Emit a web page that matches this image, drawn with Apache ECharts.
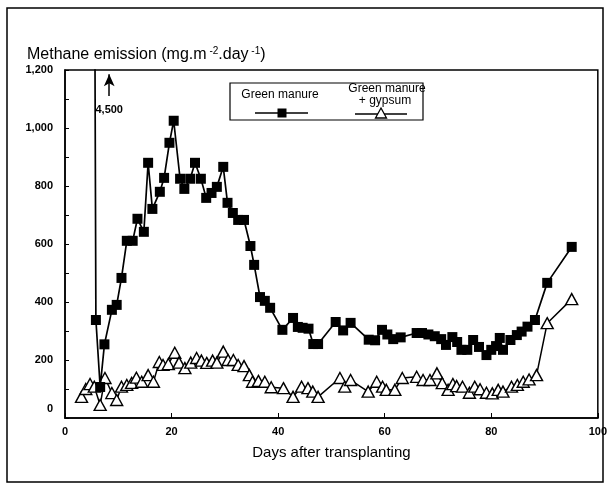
<!DOCTYPE html>
<html>
<head>
    <meta charset="utf-8">
    <title>Methane emission</title>
    <script src="https://cdn.jsdelivr.net/npm/echarts@6/dist/echarts.min.js"></script>
</head>
<body style="margin:0;background:#fff">
<div id="main" style="width:610px;height:490px;"></div>
<script type="text/javascript">
    // days after transplanting / emission values
    var gmDays = [5, 5.8, 6.6, 7.4, 8.8, 9.7, 10.6, 11.6, 12.7, 13.6, 14.8, 15.6, 16.4, 17.8, 18.6, 19.6, 20.4, 21.6, 22.4, 23.5, 24.4, 25.5, 26.5, 27.5, 28.5, 29.7, 30.5, 31.5, 32.5, 33.6, 34.8, 35.5, 36.6, 37.5, 38.5, 40.8, 42.8, 43.7, 44.6, 45.7, 46.6, 47.5, 50.8, 52.2, 53.6, 57.0, 58.2, 59.5, 60.5, 61.6, 63.0, 66.0, 67.0, 68.2, 69.4, 70.6, 71.5, 72.7, 73.6, 74.4, 75.5, 76.6, 77.7, 79.1, 80.0, 80.9, 81.6, 82.2, 83.6, 84.8, 85.7, 86.8, 88.2, 90.5, 95.1];
    var gmValues = [4500, 338, 107, 254, 373, 390, 483, 611, 611, 687, 642, 880, 721, 780, 828, 949, 1025, 825, 790, 825, 880, 825, 759, 776, 797, 866, 742, 707, 683, 683, 593, 528, 417, 404, 380, 304, 345, 314, 311, 308, 255, 255, 331, 302, 328, 270, 268, 304, 288, 272, 278, 293, 293, 288, 282, 272, 252, 279, 262, 235, 235, 269, 245, 217, 235, 248, 276, 235, 269, 286, 298, 315, 338, 466, 590];

    var gypDays = [3.1, 3.9, 4.7, 5.5, 6.6, 7.5, 8.8, 9.7, 10.6, 11.6, 12.5, 13.4, 14.4, 15.6, 16.6, 17.7, 18.4, 19.4, 20.6, 21.4, 22.5, 23.6, 24.7, 25.6, 26.6, 27.7, 28.5, 29.7, 30.6, 31.6, 32.5, 33.6, 34.6, 35.2, 36.3, 37.5, 38.7, 41.0, 42.8, 44.4, 45.6, 46.5, 47.5, 51.6, 52.5, 53.6, 56.9, 58.5, 59.6, 60.3, 61.9, 63.3, 66.0, 67.2, 68.5, 69.8, 70.8, 71.9, 72.8, 73.5, 74.6, 75.9, 76.9, 77.9, 79.1, 80.2, 81.3, 82.2, 83.8, 84.9, 86.0, 87.1, 88.5, 90.5, 95.1];
    var gypValues = [73, 100, 117, 108, 45, 138, 86, 62, 108, 114, 121, 139, 125, 148, 125, 193, 183, 186, 225, 191, 172, 191, 207, 198, 190, 198, 191, 229, 200, 200, 183, 179, 148, 125, 128, 125, 106, 103, 73, 108, 103, 91, 73, 138, 108, 131, 91, 125, 108, 97, 97, 138, 142, 131, 131, 154, 120, 97, 117, 110, 108, 87, 108, 99, 87, 85, 97, 91, 108, 114, 125, 133, 148, 327, 410];

    var seriesNames = ['Green manure', 'Green manure + gypsum'];
    var offChartValue = '4,500';

    function pairs(xs, ys) {
        var out = [];
        for (var i = 0; i < xs.length; i++) out.push([xs[i], ys[i]]);
        return out;
    }

    var font = '"Liberation Sans", Arial, sans-serif';
    var myChart = echarts.init(document.getElementById('main'));

    myChart.setOption({
        animation: false,
        textStyle: { fontFamily: font, color: '#000' },
        title: {
            left: 22, top: 41,
            text: 'Methane emission (mg.m{sup| -2}.day{sup| -1})',
            textStyle: {
                fontFamily: font, fontSize: 16, fontWeight: 'normal', color: '#000',
                rich: { sup: { fontSize: 10, fontFamily: font, verticalAlign: 'top', padding: [0, 0, 8, 0] } }
            }
        },
        grid: {
            left: 65, right: 12, top: 70, bottom: 72,
            show: true, borderColor: '#000', borderWidth: 1.5
        },
        xAxis: {
            type: 'value', min: 0, max: 100, interval: 20,
            name: 'Days after transplanting', nameLocation: 'middle', nameGap: 27,
            nameTextStyle: { fontSize: 15, fontFamily: font, color: '#000' },
            axisLine: { lineStyle: { color: '#000', width: 1.5 } },
            axisTick: { inside: true, length: 5, lineStyle: { color: '#000' } },
            axisLabel: { fontSize: 11, fontWeight: 'bold', color: '#000', margin: 8 },
            splitLine: { show: false }
        },
        yAxis: {
            type: 'value', min: 0, max: 1200, interval: 200,
            axisLine: { show: true, lineStyle: { color: '#000', width: 1.5 } },
            axisTick: { inside: true, length: 4, lineStyle: { color: '#000' } },
            minorTick: { show: true, splitNumber: 2, length: 4, lineStyle: { color: '#000' } },
            axisLabel: {
                fontSize: 11, fontWeight: 'bold', color: '#000', margin: 12,
                formatter: function (v) { return v === 0 ? '{z|0}' : v.toLocaleString('en-US'); },
                rich: { z: { fontSize: 11, fontWeight: 'bold', padding: [0, 0, 18, 0] } }
            },
            splitLine: { show: false }
        },
        series: [
            {
                name: seriesNames[1], type: 'line',
                data: pairs(gypDays, gypValues),
                symbol: 'triangle', symbolSize: [12, 11],
                lineStyle: { color: '#000', width: 1.5 },
                itemStyle: { color: '#fff', borderColor: '#000', borderWidth: 1.4 },
                z: 2
            },
            {
                name: seriesNames[0], type: 'line',
                data: pairs(gmDays, gmValues),
                symbol: 'rect', symbolSize: 10,
                lineStyle: { color: '#000', width: 1.7 },
                itemStyle: { color: '#000' },
                z: 3,
                markLine: {
                    silent: true, symbol: ['none', 'arrow'], symbolSize: [8, 12],
                    lineStyle: { color: '#000', type: 'solid', width: 1.5 },
                    label: { show: true, position: 'start', formatter: offChartValue, fontSize: 11, fontWeight: 'bold', color: '#000', distance: 8 },
                    data: [[{ coord: [8.3, 1110] }, { coord: [8.3, 1185] }]]
                }
            }
        ],
        graphic: [
            { type: 'rect', z: -1, shape: { x: 7, y: 8, width: 596, height: 474 }, style: { fill: 'none', stroke: '#000', lineWidth: 1.5 } },
            { type: 'rect', shape: { x: 230, y: 83, width: 193, height: 37 }, style: { fill: '#fff', stroke: '#000', lineWidth: 1.2 }, z: 10 },
            { type: 'text', x: 280, y: 95, z: 11, style: { text: 'Green manure', font: '12px ' + font, fill: '#000', align: 'center', verticalAlign: 'middle' } },
            { type: 'line', z: 11, shape: { x1: 255, y1: 113, x2: 308, y2: 113 }, style: { stroke: '#000', lineWidth: 1.5 } },
            { type: 'rect', z: 12, shape: { x: 277.5, y: 108.5, width: 9, height: 9 }, style: { fill: '#000' } },
            { type: 'text', x: 387, y: 89, z: 11, style: { text: 'Green manure', font: '12px ' + font, fill: '#000', align: 'center', verticalAlign: 'middle' } },
            { type: 'text', x: 385, y: 101, z: 11, style: { text: '+ gypsum', font: '12px ' + font, fill: '#000', align: 'center', verticalAlign: 'middle' } },
            { type: 'line', z: 11, shape: { x1: 355, y1: 114, x2: 407, y2: 114 }, style: { stroke: '#000', lineWidth: 1.3 } },
            { type: 'polygon', z: 12, shape: { points: [[381, 108], [386.5, 118], [375.5, 118]] }, style: { fill: '#fff', stroke: '#000', lineWidth: 1.3 } }
        ]
    });
</script>
</body>
</html>
